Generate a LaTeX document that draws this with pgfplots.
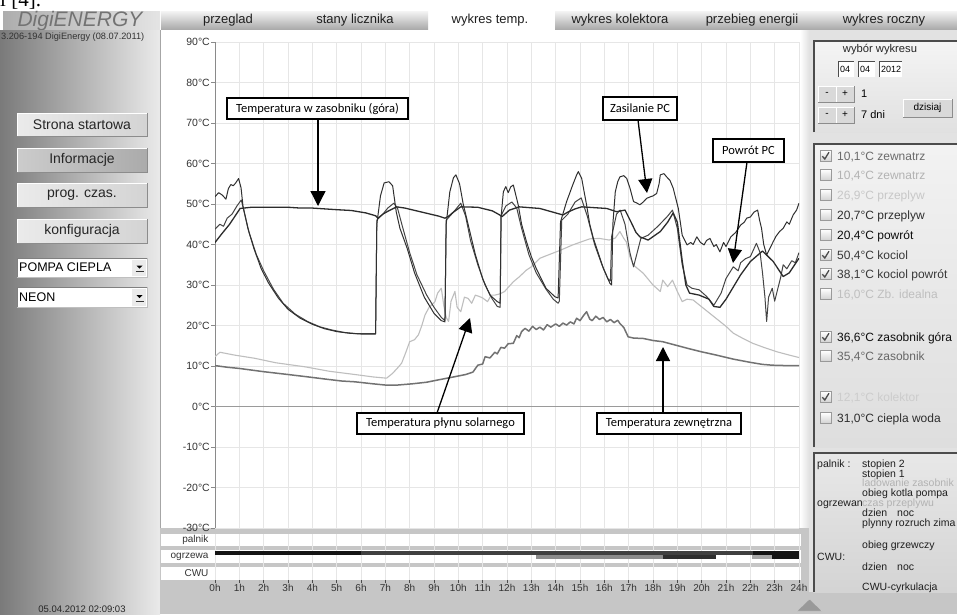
\documentclass[border=0pt]{standalone}
\usepackage{fontspec}
\setmainfont{Liberation Sans}
\newfontfamily\calib{Carlito}
\newfontfamily\tnr{Liberation Serif}
\usepackage{pgfplots}
\usepackage{pgfplotstable}
\pgfplotsset{compat=1.18}
\usetikzlibrary{arrows.meta}
\newcommand\fs[1]{\fontsize{#1}{#1}\selectfont}

\definecolor{zew}{HTML}{727272}
\definecolor{sol}{HTML}{BEBEBE}
\definecolor{gora}{HTML}{2C2C2C}
\definecolor{kot}{HTML}{303030}
\definecolor{pow}{HTML}{454545}
\definecolor{gridc}{HTML}{E6E6E6}
\definecolor{axc}{HTML}{8A8A8A}
\definecolor{zeroc}{HTML}{9A9A9A}
\definecolor{labc}{HTML}{333333}
\definecolor{hdA}{HTML}{ADADAD}
\definecolor{hdB}{HTML}{E4E4E4}
\definecolor{tabA}{HTML}{F4F4F4}
\definecolor{tabB}{HTML}{ABABAB}
\definecolor{lpA}{HTML}{7A7A7A}
\definecolor{lpB}{HTML}{EAEAEA}
\definecolor{rpbg}{HTML}{E2E2E2}
\definecolor{botg}{HTML}{C6C6C6}

\pgfplotstableread{
h T
0 10.1
0.5 9.7
1 9.4
2 8.6
3 7.9
3.7 7.4
4.5 6.8
5.2 6.3
5.75 6.1
6.5 5.6
7.0 5.3
7.5 5.3
8.1 5.6
8.7 6.0
9.2 6.6
9.8 7.3
10.3 7.9
10.6 8.5
10.8 10.2
11.0 10.5
11.1 12.3
11.3 12.0
11.5 13.4
11.6 13.0
11.75 14.6
11.9 14.4
12.05 15.5
12.26 15.6
12.4 17.5
12.5 17.0
12.6 18.5
12.74 19.3
12.9 18.6
13.05 19.8
13.2 19.0
13.35 19.6
13.5 18.9
13.65 20.2
13.8 19.6
14.0 20.4
14.15 19.8
14.3 20.6
14.45 20.1
14.6 20.9
14.75 20.4
14.86 21.8
15.0 21.2
15.15 22.5
15.27 23.4
15.4 21.6
15.5 21.2
15.65 22.3
15.8 21.5
15.95 22.0
16.1 20.9
16.25 21.5
16.4 20.7
16.55 21.3
16.64 20.5
16.8 19.5
16.98 17.2
17.2 16.9
17.6 16.8
18.0 16.3
18.4 16.0
18.9 15.2
19.4 14.4
20.0 13.5
20.6 12.7
21.3 11.7
22.0 10.9
22.5 10.4
22.9 10.2
23.5 10.1
24 10.1
}\zewtab

\pgfplotstableread{
h T
0 12.3
0.2 13.4
0.8 12.7
1.64 11.9
2.5 10.8
3.7 9.8
4.7 8.7
5.75 7.9
6.5 7.3
7.05 7.0
7.3 8.2
7.5 9.5
7.67 10.7
7.85 13.5
8.0 16.0
8.2 16.5
8.36 17.7
8.5 20
8.63 22.6
8.8 24.5
9.04 25.9
9.15 28
9.3 29.2
9.4 25
9.5 22
9.6 21
9.7 26
9.86 28.4
9.95 24.5
10.1 23.4
10.25 27
10.4 26.7
10.55 25.5
10.7 27.5
10.85 27.2
11.0 26.8
11.2 25.9
11.35 27.5
11.5 27.5
11.7 27.8
11.9 28.4
12.26 30.8
12.5 32.0
12.8 33.7
13.0 34.5
13.35 36.6
13.6 37.2
14.2 38.6
14.7 39.9
15.4 41.4
15.8 41.5
16.2 41.1
16.45 41.6
16.64 43.2
16.8 41.5
16.9 40.7
17.05 37
17.2 34.9
17.6 32.9
18.0 30.0
18.3 28.4
18.4 31.2
18.6 29.6
18.8 31.2
19.0 28.4
19.2 25.9
19.4 26.5
19.65 26.3
20.0 24.6
20.5 22.2
21.0 19.8
21.3 18.1
21.7 16.8
22.1 15.6
22.6 14.5
23.1 13.5
23.6 12.7
24 12.1
}\soltab

\pgfplotstableread{
h T
0 40.5
0.3 42.8
0.6 45
0.8 46.8
1.03 48.9
1.5 49.2
3.0 49.2
3.5 49.0
4.0 49.0
4.5 48.8
5.0 48.6
5.6 48.4
6.2 47.8
6.6 47.1
6.7 46.5
6.9 47.5
7.1 48.2
7.47 49.3
7.8 49.0
8.5 48.0
9.2 47.0
9.45 46.5
9.6 47.0
9.8 48.0
10.1 49.3
10.8 49.2
11.4 48.3
11.7 47.3
11.8 46.9
12.1 48.5
12.5 49.3
13.35 48.9
14.0 47.8
14.3 47.3
14.5 48.0
14.8 48.8
15.07 49.3
16.1 48.9
16.5 48.1
16.85 48.5
17.1 45.5
17.3 43.0
17.46 41.9
17.8 41.1
18.3 43.2
18.6 45.5
18.83 47.8
19.0 45.5
19.2 36
19.35 30
19.5 28.0
19.9 27.5
20.3 26.5
20.5 24.7
20.75 24.5
21.0 26.5
21.6 32.5
22.0 35.8
22.5 38.4
22.94 35.8
23.35 32.1
23.6 33
24 36.6
}\goratab

\pgfplotstableread{
h T
0 43.8
0.2 45
0.35 44.5
0.5 46.5
0.7 47.5
0.9 49.5
1.08 51
1.2 48
1.4 43
1.7 37.5
2.0 33.5
2.4 29
2.8 25.5
3.3 22.8
3.8 21
4.3 19.7
4.8 18.9
5.3 18.3
5.8 18.0
6.6 18.0
6.65 46
6.9 47.5
7.1 49
7.35 50.2
7.5 49
7.7 44.5
8.0 38
8.3 32.5
8.7 27.5
9.0 24.5
9.3 22
9.45 21.2
9.5 46
9.8 48
10.1 50.2
10.3 47
10.5 41
10.8 35
11.1 30
11.4 26.5
11.6 24.7
11.72 24.5
11.75 47
11.95 49.5
12.2 50.5
12.4 49
12.6 44
12.9 37.5
13.2 33
13.6 29
13.9 26.5
14.1 25.5
14.15 26
14.25 46
14.5 47.5
14.8 50.5
15.05 51.5
15.3 47
15.6 40
15.9 35
16.15 31.5
16.25 31
16.3 42
16.5 47.5
16.65 48.5
16.85 45
17.05 38
17.2 34.5
17.35 38
17.5 41.5
17.8 42.3
18.2 44.5
18.6 47
18.8 48.5
19.0 44
19.2 35
19.4 30
19.6 29.2
19.9 28.8
20.2 27.2
20.5 25.0
20.8 28
21.0 31.6
21.3 34.5
21.5 33.5
21.6 35.5
21.8 36.5
22.0 37.0
22.25 40.3
22.4 38
22.5 33
22.6 27
22.67 21
22.75 27
22.9 29.2
23.0 26
23.1 28.4
23.25 32
23.35 35
23.5 34
23.7 36
23.85 35.5
24 38
}\powtab

\pgfplotstableread{
h T
0 51.8
0.15 52.8
0.3 52.2
0.45 51.2
0.55 53.8
0.65 54.8
0.75 54.5
0.85 55.2
0.97 56.3
1.07 54
1.15 49.5
1.35 44
1.6 39
1.9 34
2.2 30.5
2.6 26.8
3.0 24
3.5 21.8
4.0 20.3
4.5 19.2
5.0 18.5
5.5 18.1
6.0 17.9
6.6 17.9
6.65 45
6.8 52
6.95 55.2
7.15 55.5
7.3 54.5
7.45 48
7.6 44
7.9 39
8.2 33
8.6 27
9.0 23
9.3 21.2
9.45 20.9
9.5 45
9.65 53
9.8 56.5
9.9 57.2
10.05 55
10.2 50
10.4 45
10.7 37.5
11.0 31.5
11.3 27.5
11.6 25.9
11.72 25.5
11.76 47
11.85 53
11.95 54.3
12.05 52.8
12.15 54.2
12.26 54.7
12.46 49.8
12.6 45
12.8 40.7
13.0 37
13.2 34.1
13.6 29.2
13.97 27.1
14.1 26.8
14.2 45.6
14.45 50.6
14.7 54.7
14.85 57
14.93 58
15.07 56.3
15.17 53
15.27 49.8
15.4 45
15.55 41.5
15.96 34.1
16.23 30.4
16.3 30
16.35 45
16.45 53
16.55 55.5
16.64 56.7
16.8 57
16.92 56.3
17.05 54
17.2 50.6
17.35 50.2
17.46 49.8
17.6 50.5
17.74 51.4
17.9 51.8
18.0 52
18.15 52.6
18.25 55
18.3 57.2
18.45 57.5
18.56 56.7
18.7 55.8
18.83 53.9
19.04 48.9
19.2 42.3
19.4 39.9
19.55 40.5
19.65 40
19.8 41.9
19.95 40.5
20.1 39.9
20.2 41
20.34 41.5
20.5 39.5
20.6 40
20.75 38.2
20.9 40.5
21.0 39.5
21.2 41.9
21.4 43
21.6 44.8
21.75 45.5
21.85 46.5
22.0 46.8
22.15 48
22.3 48.5
22.38 46
22.46 44
22.55 40
22.67 37.4
22.8 39
22.94 40.7
23.05 42
23.2 43.2
23.35 44
23.5 45.6
23.6 45
23.76 47.3
23.9 48.5
24 50.2
}\kottab

\newcommand\btn[5]{%
  \shade[left color=#4, right color=#5] (17,#1) rectangle (147,#2);
  \draw[white, line width=1pt] (17,#2) -- (17,#1) -- (147,#1);
  \draw[black!45, line width=1pt] (17,#2) -- (147,#2) -- (147,#1);
  \node[font=\fs{14}, text=black!85, inner sep=0pt] at (82,{(#1+#2)/2}) {#3};}
\newcommand\ddown[3]{%
  \fill[white] (17,#1) rectangle (147,#2);
  \draw[black!50] (17,#2) -- (17,#1) -- (147,#1);
  \draw[black!25] (17,#2) -- (147,#2) -- (147,#1);
  \fill[black!8] (132,{#1+1.5}) rectangle (146,{#2-1.5});
  \fill[black] (136.5,{(#1+#2)/2-2}) -- (142.5,{(#1+#2)/2-2}) -- (139.5,{(#1+#2)/2+1}) -- cycle;
  \draw[black!80, line width=0.8pt] (135.5,{(#1+#2)/2+4}) -- (143.5,{(#1+#2)/2+4});
  \node[anchor=west, font=\fs{12.5}, inner sep=0pt] at (19,{(#1+#2)/2}) {#3};}
\newcommand\cb[4]{%
  \shadedraw[top color=white, bottom color=black!18, draw=black!40] (820,{#1-5.5}) rectangle (831,{#1+5.5});
  \ifnum#4=1 \draw[black!70, line width=1.3pt] (822.3,{#1+0.2}) -- (824.8,{#1+3}) -- (829,{#1-3.8});\fi
  \node[anchor=base west, inner sep=0pt, font=\fs{12}, text=#2] at (837,{#1+4.3}) {#3};}
\newcommand\pmbtn[3]{%
  \fill[black!15] (#1,#2) rectangle ({#1+18},{#2+16});
  \draw[white] (#1,{#2+16}) -- (#1,#2) -- ({#1+18},#2);
  \draw[black!45] (#1,{#2+16}) -- ({#1+18},{#2+16}) -- ({#1+18},#2);
  \node[font=\fs{10}, inner sep=0pt] at ({#1+9},{#2+8}) {#3};}
\newcommand\fld[3]{%
  \fill[white] (#1,61) rectangle (#2,77);
  \draw[black!70] (#1,77) -- (#1,61) -- (#2,61);
  \node[anchor=west, font=\fs{9}, inner sep=0pt] at ({#1+2},69.5) {#3};}

\begin{document}
\begin{tikzpicture}
\useasboundingbox (0pt,0pt) rectangle (957pt,-614pt);
\begin{scope}[x=1pt,y=-1pt]
\fill[white] (0,0) rectangle (957,614);
\node[anchor=base west, inner sep=0pt, font=\tnr\fs{21}] at (0,6.5) {ı [4].};
% header
\shade[left color=hdA, right color=hdB] (3,11) rectangle (160,30);
\node[font=\fs{21}\itshape, text=black!55] at (80,21) {DigiENERGY};
\shade[top color=tabA, bottom color=tabB] (161,11) rectangle (428,29);
\shade[top color=tabA, bottom color=tabB] (555,11) rectangle (957,29);
\foreach \xx/\tt in {228/przeglad, 355/stany licznika, 490/wykres temp., 620/wykres kolektora, 752/przebieg energii, 884/wykres roczny}
  \node[font=\fs{13}, text=black!88] at (\xx,20.5) {\tt};
% left panel
\shade[left color=lpA, right color=lpB] (0,30) rectangle (160,614);
\node[anchor=west, inner sep=0pt, font=\fs{9.2}, text=black!80] at (1,37) {3.206-194 DigiEnergy (08.07.2011)};
\btn{113}{136}{Strona startowa}{black!8}{black!17}
\btn{148}{172}{Informacje}{black!20}{black!33}
\btn{183}{207}{prog. czas.}{black!8}{black!17}
\btn{219}{243}{konfiguracja}{black!8}{black!17}
\ddown{258}{277}{POMPA CIEPLA}
\ddown{287}{307}{NEON}
\node[anchor=base, inner sep=0pt, font=\fs{9.5}, text=black!85] at (82,612.5) {05.04.2012 02:09:03};
\draw[black!35] (160.5,30) -- (160.5,614);
% right panel
\fill[rpbg] (809,30) rectangle (957,614);
\shade[left color=white, right color=rpbg] (800,30) rectangle (809,528);
\fill[botg] (160,528) rectangle (957,614);
\fill[rpbg] (809,30) rectangle (957,592);
\fill[white] (161,534) rectangle (801,546);
\fill[white] (161,550) rectangle (801,563);
\fill[white] (161,567) rectangle (801,580);
% boxes
\shade[top color=black!4, bottom color=black!12] (813,40) rectangle (957,132);
\draw[black!70, line width=2pt] (814,132) -- (814,41) -- (957,41);
\shade[top color=black!5, bottom color=black!13] (813,143) rectangle (957,447);
\draw[black!70, line width=2pt] (814,447) -- (814,144) -- (957,144);
\shade[top color=black!9, bottom color=black!17] (813,452) rectangle (957,592);
\draw[black!70, line width=2pt] (814,592) -- (814,453) -- (957,453);
\node[font=\fs{11.2}, text=black!85] at (880,50) {wybór wykresu};
\fld{838}{854}{04}
\fld{858}{875}{04}
\fld{879}{902}{2012}
\pmbtn{818}{86}{-}
\pmbtn{836}{86}{+}
\pmbtn{818}{107}{-}
\pmbtn{836}{107}{+}
\node[anchor=west, font=\fs{11}, inner sep=0pt] at (861,94) {1};
\node[anchor=west, font=\fs{11}, inner sep=0pt] at (861,115) {7 dni};
\fill[black!15] (903,99) rectangle (952,117);
\draw[white] (903,117) -- (903,99) -- (952,99);
\draw[black!45] (903,117) -- (952,117) -- (952,99);
\node[font=\fs{10}, inner sep=0pt] at (927.5,108) {dzisiaj};
\cb{156}{black!58}{10,1°C zewnatrz}{1}
\cb{175}{black!30}{10,4°C zewnatrz}{0}
\cb{195}{black!22}{26,9°C przeplyw}{0}
\cb{215}{black!82}{20,7°C przeplyw}{0}
\cb{235}{black!95}{20,4°C powrót}{0}
\cb{255}{black!78}{50,4°C kociol}{1}
\cb{274}{black!78}{38,1°C kociol powrót}{1}
\cb{294}{black!25}{16,0°C Zb. idealna}{0}
\cb{337}{black!95}{36,6°C zasobnik góra}{1}
\cb{356}{black!60}{35,4°C zasobnik}{0}
\cb{397}{black!20}{12,1°C kolektor}{1}
\cb{418}{black!82}{31,0°C ciepla woda}{0}
\begin{scope}[every node/.style={anchor=base west, inner sep=0pt, font=\fs{10.5}, text=black!88}]
\node at (817,467.5) {palnik :};
\node at (862,467.5) {stopien 2};
\node at (862,477) {stopien 1};
\node[text=black!30] at (862,486.5) {ladowanie zasobnik};
\node at (862,496.5) {obieg kotla pompa};
\node at (817,506.5) {ogrzewan};
\node[text=black!30] at (862,506.5) {czas przeplywu};
\node at (862,516.5) {dzien};
\node at (897,516.5) {noc};
\node at (862,526.5) {plynny rozruch zima};
\node at (862,548.5) {obieg grzewczy};
\node at (817,560.5) {CWU:};
\node at (862,570.5) {dzien};
\node at (897,570.5) {noc};
\node at (862,590) {CWU-cyrkulacja};
\end{scope}
\filldraw[fill=black!40, draw=black!20] (797,611) -- (822,611) -- (809.5,599) -- cycle;
\end{scope}

\begin{axis}[
  at={(215pt,-528pt)}, anchor=south west,
  width=584pt, height=486pt, scale only axis,
  xmin=0, xmax=24, ymin=-30, ymax=90,
  axis x line*=bottom, axis y line*=left,
  x axis line style={draw=none},
  y axis line style={draw=axc, line width=0.8pt, -},
  xtick={0,1,...,24}, xticklabels={},
  xtick style={draw=none},
  ytick={-30,-20,...,90},
  yticklabels={-30°C,-20°C,-10°C,0°C,10°C,20°C,30°C,40°C,50°C,60°C,70°C,80°C,90°C},
  ytick style={draw=axc, line width=0.8pt},
  tick align=outside, major tick length=4pt,
  yticklabel style={font=\fs{10.5}, text=labc, inner sep=1pt},
  grid=major, grid style={draw=gridc, line width=0.8pt},
  every axis plot/.append style={no marks, line join=round},
]
\addplot[draw=zeroc, line width=0.9pt] coordinates {(0,0) (24,0)};
\addplot[draw=sol, line width=1.1pt] table[x=h, y=T] {\soltab};
\addplot[draw=zew, line width=1.5pt] table[x=h, y=T] {\zewtab};
\addplot[draw=pow, line width=1.0pt] table[x=h, y=T] {\powtab};
\addplot[draw=kot, line width=1.0pt] table[x=h, y=T] {\kottab};
\addplot[draw=gora, line width=1.3pt] table[x=h, y=T] {\goratab};
\end{axis}

\begin{axis}[
  at={(215pt,-580pt)}, anchor=south west,
  width=584pt, height=46pt, scale only axis,
  xmin=0, xmax=24, ymin=-580, ymax=-534,
  axis x line*=bottom, axis y line*=left,
  x axis line style={draw=none}, y axis line style={draw=none},
  xtick={0,1,...,24},
  xticklabels={0h,1h,2h,3h,4h,5h,6h,7h,8h,9h,10h,11h,12h,13h,14h,15h,16h,17h,18h,19h,20h,21h,22h,23h,24h},
  xtick style={draw=black!70, line width=0.8pt},
  major tick length=3pt, tick align=outside,
  xmajorgrids, grid style={draw=gridc, line width=0.8pt},
  ytick={-540,-556.5,-573.5}, yticklabels={palnik,ogrzewa,CWU},
  ytick style={draw=none},
  ticklabel style={font=\fs{10}, text=labc},
  xticklabel style={inner sep=1.5pt},
  every axis plot/.append style={no marks},
]
\addplot[draw=black!92, line width=4.5pt] coordinates {(0,-552.8) (6,-552.8)};
\addplot[draw=black!75, line width=4.5pt] coordinates {(6,-552.8) (22.1,-552.8)};
\addplot[draw=black!92, line width=4.5pt] coordinates {(22.1,-552.8) (24,-552.8)};
\addplot[draw=black!45, line width=4pt] coordinates {(13.2,-557) (18.4,-557)};
\addplot[draw=black!82, line width=4pt] coordinates {(18.4,-557) (20.6,-557)};
\addplot[draw=black!35, line width=4pt] coordinates {(22.05,-557) (22.9,-557)};
\addplot[draw=black!92, line width=4pt] coordinates {(22.9,-557) (24,-557)};
\end{axis}

\begin{scope}[x=1pt,y=-1pt]
\begin{scope}[every node/.style={font=\calib\fs{12.5}, inner sep=0pt}]
\draw[fill=white, line width=1.5pt] (227,98) rectangle (408,119);
\node at (317.5,108.5) {Temperatura w zasobniku (góra)};
\draw[line width=1.3pt, -{Triangle[width=15pt,length=15pt]}] (318,119) -- (318,206);
\draw[fill=white, line width=1.5pt] (603,97) rectangle (677,120);
\node at (640,108.5) {Zasilanie PC};
\draw[line width=1.3pt, -{Triangle[width=14pt,length=14pt]}] (638,120) -- (647,193);
\draw[fill=white, line width=1.5pt] (713,139) rectangle (784,162);
\node at (748.5,150.5) {Powrót PC};
\draw[line width=1.3pt, -{Triangle[width=14pt,length=14pt]}] (747,162) -- (733,263);
\draw[fill=white, line width=1.5pt] (357,413) rectangle (524,434);
\node at (440.5,423.5) {Temperatura płynu solarnego};
\draw[line width=1.3pt, -{Triangle[width=14pt,length=14pt]}] (437,413) -- (470,318);
\draw[fill=white, line width=1.5pt] (597,413) rectangle (741,434);
\node at (669,423.5) {Temperatura zewnętrzna};
\draw[line width=1.3pt, -{Triangle[width=14pt,length=14pt]}] (663,413) -- (663,347);
\end{scope}
\end{scope}
\end{tikzpicture}
\end{document}
